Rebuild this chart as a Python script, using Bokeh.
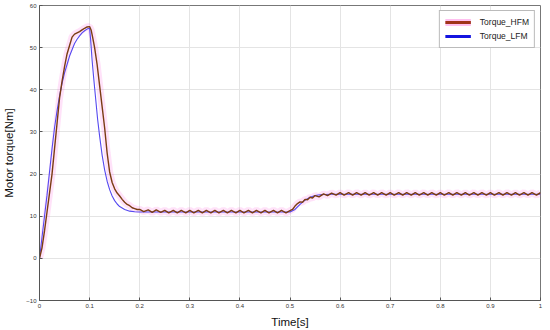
from bokeh.plotting import figure
from bokeh.models import FixedTicker, Legend, LegendItem
from bokeh.embed import file_html
from bokeh.resources import INLINE

# ---- data ----
hfm_t = [0.000, 0.005, 0.010, 0.015, 0.020, 0.025, 0.030, 0.035, 0.040, 0.045,
         0.050, 0.055, 0.060, 0.065, 0.070, 0.075, 0.080, 0.085, 0.090, 0.095,
         0.100, 0.103, 0.106, 0.110, 0.115, 0.120, 0.125, 0.130, 0.135, 0.140,
         0.145, 0.150, 0.155, 0.160, 0.165, 0.170, 0.175, 0.180, 0.185, 0.190, 0.195,
         0.200, 0.208, 0.217, 0.225, 0.233, 0.242, 0.250, 0.258, 0.267, 0.275,
         0.283, 0.292, 0.300, 0.308, 0.317, 0.325, 0.333, 0.342, 0.350, 0.358,
         0.367, 0.375, 0.383, 0.392, 0.400, 0.408, 0.417, 0.425, 0.433, 0.442,
         0.450, 0.458, 0.467, 0.475, 0.483, 0.492, 0.500,
         0.505, 0.510, 0.515, 0.520, 0.525, 0.530, 0.535, 0.540, 0.545, 0.550,
         0.558, 0.567, 0.575, 0.583,
         0.592, 0.600, 0.608, 0.617, 0.625, 0.633, 0.642, 0.650, 0.658, 0.667,
         0.675, 0.683, 0.692, 0.700, 0.708, 0.717, 0.725, 0.733, 0.742, 0.750,
         0.758, 0.767, 0.775, 0.783, 0.792, 0.800, 0.808, 0.817, 0.825, 0.833,
         0.842, 0.850, 0.858, 0.867, 0.875, 0.883, 0.892, 0.900, 0.908, 0.917,
         0.925, 0.933, 0.942, 0.950, 0.958, 0.967, 0.975, 0.983, 0.992, 1.000]
hfm_v = [0.0, 2.5, 6.5, 11.0, 15.5, 20.0, 26.0, 32.0, 38.0, 42.0,
         45.5, 48.5, 50.5, 52.5, 53.2, 53.5, 53.8, 54.2, 54.6, 54.9,
         55.0, 54.2, 52.5, 50.0, 46.0, 41.0, 36.0, 31.0, 25.0, 20.5,
         18.0, 16.5, 15.5, 14.8, 14.0, 13.3, 12.8, 12.5, 12.0, 11.8, 11.6,
         11.6, 11.1, 11.5, 10.9, 11.5, 10.9, 11.4, 10.8, 11.4, 10.8,
         11.4, 10.8, 11.4, 10.8, 11.4, 10.8, 11.4, 10.8, 11.4, 10.8,
         11.4, 10.8, 11.4, 10.8, 11.4, 10.8, 11.4, 10.8, 11.4, 10.8,
         11.4, 10.8, 11.4, 10.8, 11.4, 10.8, 11.3,
         11.6, 12.4, 13.0, 13.4, 13.3, 14.0, 13.9, 14.5, 14.3, 14.9,
         14.6, 15.3, 14.9, 15.5,
         15.0, 15.6, 15.0, 15.6, 15.0, 15.6, 15.0, 15.6, 15.0, 15.6,
         15.0, 15.6, 15.0, 15.6, 15.0, 15.6, 15.0, 15.6, 15.0, 15.6,
         15.0, 15.6, 15.0, 15.6, 15.0, 15.6, 15.0, 15.6, 15.0, 15.6,
         15.0, 15.6, 15.0, 15.6, 15.0, 15.6, 15.0, 15.6, 15.0, 15.6,
         15.0, 15.6, 15.0, 15.6, 15.0, 15.6, 15.0, 15.6, 15.0, 15.6]

lfm_t = [0.000, 0.005, 0.010, 0.015, 0.020, 0.025, 0.030, 0.035, 0.040, 0.045,
         0.050, 0.055, 0.060, 0.065, 0.070, 0.075, 0.080, 0.085, 0.090, 0.095,
         0.100, 0.102, 0.105, 0.108, 0.112, 0.116, 0.120, 0.125, 0.130, 0.135,
         0.140, 0.145, 0.150, 0.155, 0.160, 0.170, 0.180, 0.190, 0.200,
         0.500, 0.510, 0.520, 0.530, 0.540, 0.550, 0.560, 0.580, 1.000]
lfm_v = [0.0, 5.0, 10.0, 15.0, 20.5, 26.0, 31.0, 35.0, 38.5, 41.5,
         44.0, 46.0, 48.0, 49.5, 51.0, 52.0, 52.8, 53.5, 54.0, 54.4,
         54.6, 52.0, 47.0, 43.0, 38.0, 33.0, 29.0, 24.5, 21.0, 18.3,
         16.3, 14.8, 13.7, 12.9, 12.3, 11.6, 11.2, 11.05, 11.0,
         11.0, 11.6, 12.8, 13.8, 14.5, 14.9, 15.1, 15.2, 15.2]

x_ticks = [0, 0.1, 0.2, 0.3, 0.4, 0.5, 0.6, 0.7, 0.8, 0.9, 1]
y_ticks = [-10, 0, 10, 20, 30, 40, 50, 60]
series_names = ["Torque_HFM", "Torque_LFM"]

FONT = "Liberation Sans"
NAN = float("nan")

p = figure(width=546, height=330, x_range=(0, 1), y_range=(-10, 60),
           output_backend="svg", toolbar_location=None,
           min_border_left=32, min_border_right=6, min_border_top=5,
           min_border_bottom=30)

# lines
halo = p.line(hfm_t, hfm_v, line_color="#ff70e0", line_alpha=0.2, line_width=7)
lfm = p.line(lfm_t, lfm_v, line_color="#5548f0", line_width=1.1)
hfm = p.line(hfm_t, hfm_v, line_color="#7a3c12", line_width=1.4)

# legend proxies (thicker lines, nothing visible in the plot)
leg_halo = p.line([NAN, NAN], [NAN, NAN], line_color="#ffc0f0", line_width=7)
leg_hfm = p.line([NAN, NAN], [NAN, NAN], line_color="#a0341a", line_width=3)
leg_lfm = p.line([NAN, NAN], [NAN, NAN], line_color="#1414e0", line_width=3)

legend = Legend(items=[LegendItem(label=series_names[0], renderers=[leg_halo, leg_hfm]),
                       LegendItem(label=series_names[1], renderers=[leg_lfm])],
                location="top_right")
legend.label_text_font = FONT
legend.label_text_font_size = "8.5px"
legend.label_text_color = "#222222"
legend.glyph_width = 26
legend.glyph_height = 12
legend.label_standoff = 9
legend.label_height = 12
legend.spacing = 2
legend.padding = 5
legend.margin = 5
legend.border_line_color = "#777777"
legend.border_line_width = 1
legend.background_fill_alpha = 1.0
p.add_layout(legend)

# axes
p.xaxis.ticker = FixedTicker(ticks=x_ticks)
p.yaxis.ticker = FixedTicker(ticks=y_ticks)
p.xaxis.major_label_overrides = {0: "0", 1: "1"}
for ax in (p.xaxis, p.yaxis):
    ax.major_label_text_font = FONT
    ax.major_label_text_font_size = "6px"
    ax.major_label_text_color = "#333333"
    ax.major_tick_in = 3
    ax.major_tick_out = 0
    ax.minor_tick_in = 0
    ax.minor_tick_out = 0
    ax.axis_line_color = "#555555"
    ax.major_tick_line_color = "#555555"
    ax.major_label_standoff = 3
    ax.axis_label_text_font = FONT
    ax.axis_label_text_font_style = "normal"
    ax.axis_label_text_font_size = "11.5px"
    ax.axis_label_text_color = "#111111"
p.xaxis.axis_label = "Time[s]"
p.yaxis.axis_label = "Motor torque[Nm]"
p.xaxis.axis_label_standoff = 5
p.yaxis.axis_label_standoff = 8

p.xgrid.grid_line_color = "#e4e4e4"
p.ygrid.grid_line_color = "#e4e4e4"
p.outline_line_color = "#777777"
p.background_fill_color = "white"

open("out.html", "w").write(file_html(p, INLINE))
